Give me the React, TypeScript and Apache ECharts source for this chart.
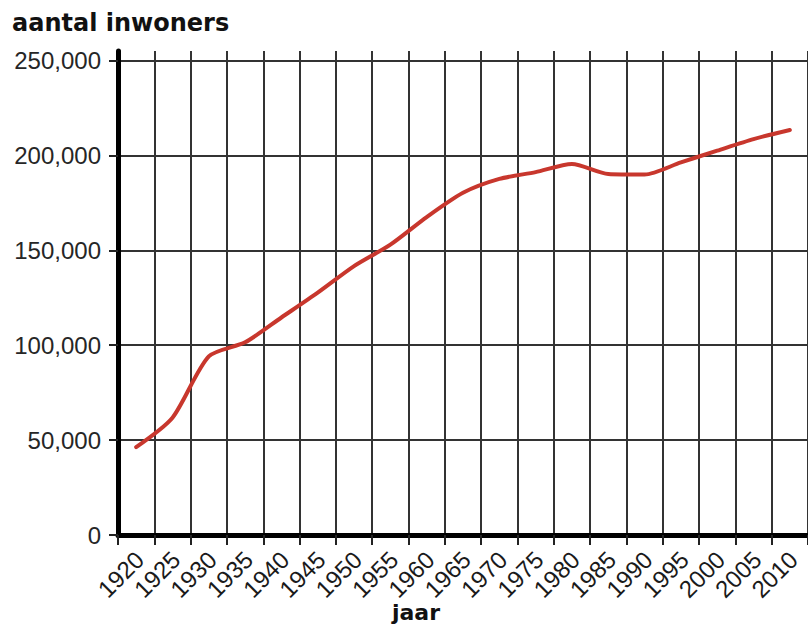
import React, { useEffect, useRef } from "react";
import * as echarts from "echarts";

const years: string[] = [
  "1920", "1925", "1930", "1935", "1940", "1945", "1950", "1955", "1960", "1965",
  "1970", "1975", "1980", "1985", "1990", "1995", "2000", "2005", "2010",
];
const inwoners: number[] = [
  46300, 61800, 94100, 101500, 114600, 127700, 141700, 153000, 167500, 180300,
  187600, 191200, 195500, 190200, 189900, 196300, 202500, 208600, 213400,
];
const yTicks = { min: 0, max: 255000, interval: 50000 };
const titleText = "aantal inwoners";
const xName = "jaar";

export default function App() {
  const ref = useRef<HTMLDivElement>(null);
  useEffect(() => {
    if (!ref.current) return;
    const chart = echarts.init(ref.current, undefined, { renderer: "svg" });
    chart.setOption({
      animation: false,
      backgroundColor: "#ffffff",
      grid: { left: 118, right: 0, top: 51, bottom: 98, containLabel: false },
      graphic: [
        {
          type: "text",
          x: 12,
          y: 23,
          style: {
            text: titleText,
            fontFamily: "DejaVu Sans",
            fontWeight: "bold",
            fontSize: 24,
            fill: "#111",
            align: "left",
            verticalAlign: "middle",
          },
        },
        {
          type: "text",
          x: 416,
          y: 612,
          style: {
            text: xName,
            fontFamily: "DejaVu Sans",
            fontWeight: "bold",
            fontSize: 22,
            fill: "#111",
            align: "center",
            verticalAlign: "middle",
          },
        },
      ],
      xAxis: {
        type: "category",
        data: years,
        boundaryGap: true,
        axisLine: { show: true, lineStyle: { color: "#000", width: 5 } },
        axisTick: { show: true, interval: 0, length: 10, lineStyle: { color: "#222", width: 2 } },
        splitLine: { show: true, interval: 0, lineStyle: { color: "#333", width: 2 } },
        axisLabel: {
          interval: 0,
          rotate: 45,
          margin: 24,
          padding: [0, -5, 0, 0],
          fontFamily: "Liberation Sans",
          fontSize: 24,
          color: "#1a1a1a",
          hideOverlap: false,
        },
      },
      yAxis: {
        type: "value",
        min: yTicks.min,
        max: yTicks.max,
        interval: yTicks.interval,
        axisLine: { show: true, lineStyle: { color: "#000", width: 5 } },
        axisTick: { show: true, length: 9, lineStyle: { color: "#222", width: 2 } },
        splitLine: { show: true, showMaxLine: false, lineStyle: { color: "#333", width: 2 } },
        axisLabel: {
          showMaxLabel: false,
          margin: 17,
          fontFamily: "Liberation Sans",
          fontSize: 24,
          color: "#262626",
          formatter: (v: number) => v.toLocaleString("en-US"),
        },
      },
      series: [
        {
          type: "line",
          data: inwoners,
          smooth: 0.25,
          symbol: "none",
          lineStyle: { color: "#c8372d", width: 4, cap: "round", join: "round" },
        },
      ],
    });
    return () => chart.dispose();
  }, []);
  return (
    <div
      ref={ref}
      style={{ position: "absolute", left: 0, top: 0, width: 808, height: 633 }}
    />
  );
}
